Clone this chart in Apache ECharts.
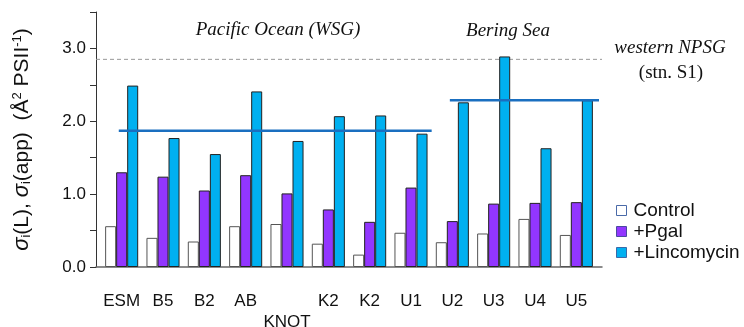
<!DOCTYPE html>
<html><head><meta charset="utf-8">
<script src="https://cdn.jsdelivr.net/npm/echarts@6/dist/echarts.min.js"></script>
<style>html,body{margin:0;padding:0;background:#fff}#c{width:744px;height:327px}</style>
</head><body><div id="c"></div>
<script>
var categories = ['ESM','B5','B2','AB','\nKNOT','K2','K2','U1','U2','U3','U4','U5'];
var controlVals = [0.56,0.40,0.35,0.56,0.59,0.32,0.17,0.47,0.34,0.46,0.66,0.44];
var pgalVals    = [1.30,1.24,1.05,1.26,1.01,0.79,0.62,1.09,0.63,0.87,0.88,0.89];
var lincoVals   = [2.49,1.77,1.55,2.41,1.73,2.07,2.08,1.83,2.26,2.89,1.63,2.29];
var pacificMean = 1.87;   // horizontal line, Pacific Ocean (WSG)
var pacificSpan = [-0.07, 7.5]; // in category-index units
var beringMean = 2.29;
var beringSpan = [7.94, 11.55];
var npsgValue = 2.85;     // western NPSG (stn. S1), spans the full axis
var yTicks = [0, 1, 2, 3];

var chart = echarts.init(document.getElementById('c'));
var barBase = {type:'bar', barGap:'0%', barCategoryGap:'20%', xAxisIndex:1, yAxisIndex:1};
chart.setOption({
  animation:false,
  grid:[
    {left:96, right:142, top:12, bottom:60, containLabel:false, outerBoundsMode:'none'},
    {left:101, right:147, top:12, bottom:60, containLabel:false, outerBoundsMode:'none'}
  ],
  legend:{
    orient:'vertical', left:611, top:196, itemWidth:10, itemHeight:10, itemGap:2,
    textStyle:{fontFamily:'Liberation Sans', fontSize:19, color:'#111', padding:[0,0,0,2]},
    data:[
      {name:'Control', icon:'rect', itemStyle:{color:'#fff', borderColor:'#4a6aa8', borderWidth:1}},
      {name:'+Pgal', icon:'rect', itemStyle:{color:'#9236ff', borderColor:'#4a4aa0', borderWidth:1}},
      {name:'+Lincomycin', icon:'rect', itemStyle:{color:'#00b0f0', borderColor:'#3a6aa8', borderWidth:1}}
    ]
  },
  xAxis:[{
    gridIndex:0, type:'value', min:0, max:1,
    axisLine:{show:true, lineStyle:{color:'#666', width:1.5}},
    axisTick:{show:false}, axisLabel:{show:false}, splitLine:{show:false}
  },{
    gridIndex:1, type:'category', data:categories,
    axisLine:{show:false}, axisTick:{show:false},
    axisLabel:{fontFamily:'Liberation Sans', fontSize:17, color:'#111', margin:24, lineHeight:21, interval:0}
  },{
    gridIndex:1, type:'value', min:-0.5, max:11.5, show:false
  }],
  yAxis:[{
    gridIndex:0, type:'value', min:0, max:3.5, interval:0.5,
    axisLine:{show:true, onZero:false, lineStyle:{color:'#333', width:1}},
    axisTick:{show:true, length:6, lineStyle:{color:'#333'}},
    splitLine:{show:false},
    axisLabel:{fontFamily:'Liberation Sans', fontSize:17, color:'#111', margin:10,
      formatter:function(v){ return yTicks.indexOf(v) >= 0 ? v.toFixed(1) : ''; }},
    name:'{i|σ}{s|i}{n|(L), }{i|σ}{s|i}{n|(app)  (Å}{p|2}{n| PSII}{p|-1}{n|)}',
    nameLocation:'middle', nameRotate:90, nameGap:63,
    nameTextStyle:{
      rich:{
        n:{fontFamily:'Liberation Sans', fontSize:21, color:'#111'},
        i:{fontFamily:'Liberation Sans', fontStyle:'italic', fontSize:22, color:'#111'},
        s:{fontFamily:'Liberation Sans', fontSize:13, color:'#111', verticalAlign:'bottom', padding:[8,0,0,0]},
        p:{fontFamily:'Liberation Sans', fontSize:13, color:'#111', verticalAlign:'top', padding:[0,0,8,0]}
      }
    }
  },{
    gridIndex:1, type:'value', min:0, max:3.5, show:false
  }],
  series:[
    {type:'line', name:'npsg', xAxisIndex:0, yAxisIndex:0, symbol:'none', silent:true,
      lineStyle:{color:'#999', type:[4,3], width:1}, z:1,
      data:[[0, npsgValue],[1, npsgValue]]},
    Object.assign({name:'Control', data:controlVals,
      itemStyle:{color:'#fff', borderColor:'#555', borderWidth:1}}, barBase),
    Object.assign({name:'+Pgal', data:pgalVals,
      itemStyle:{color:'#9236ff', borderColor:'#222', borderWidth:1}}, barBase),
    Object.assign({name:'+Lincomycin', data:lincoVals,
      itemStyle:{color:'#00b0f0', borderColor:'#222', borderWidth:1}}, barBase),
    {type:'line', name:'pacific', xAxisIndex:2, yAxisIndex:1, symbol:'none', silent:true,
      lineStyle:{color:'#1a6fc0', width:2.5}, z:5,
      data:[[pacificSpan[0], pacificMean],[pacificSpan[1], pacificMean]]},
    {type:'line', name:'bering', xAxisIndex:2, yAxisIndex:1, symbol:'none', silent:true,
      lineStyle:{color:'#1a6fc0', width:2.5}, z:5,
      data:[[beringSpan[0], beringMean],[beringSpan[1], beringMean]]}
  ],
  graphic:[
    {type:'text', style:{text:'Pacific Ocean (WSG)', x:278, y:30, align:'center', verticalAlign:'middle',
      font:'italic 19px "Liberation Serif"', fill:'#111'}},
    {type:'text', style:{text:'Bering Sea', x:508, y:31, align:'center', verticalAlign:'middle',
      font:'italic 19px "Liberation Serif"', fill:'#111'}},
    {type:'text', style:{text:'western NPSG', x:670, y:48, align:'center', verticalAlign:'middle',
      font:'italic 19px "Liberation Serif"', fill:'#111'}},
    {type:'text', style:{text:'(stn. S1)', x:671, y:73, align:'center', verticalAlign:'middle',
      font:'19px "Liberation Serif"', fill:'#111'}}
  ]
});
</script></body></html>
